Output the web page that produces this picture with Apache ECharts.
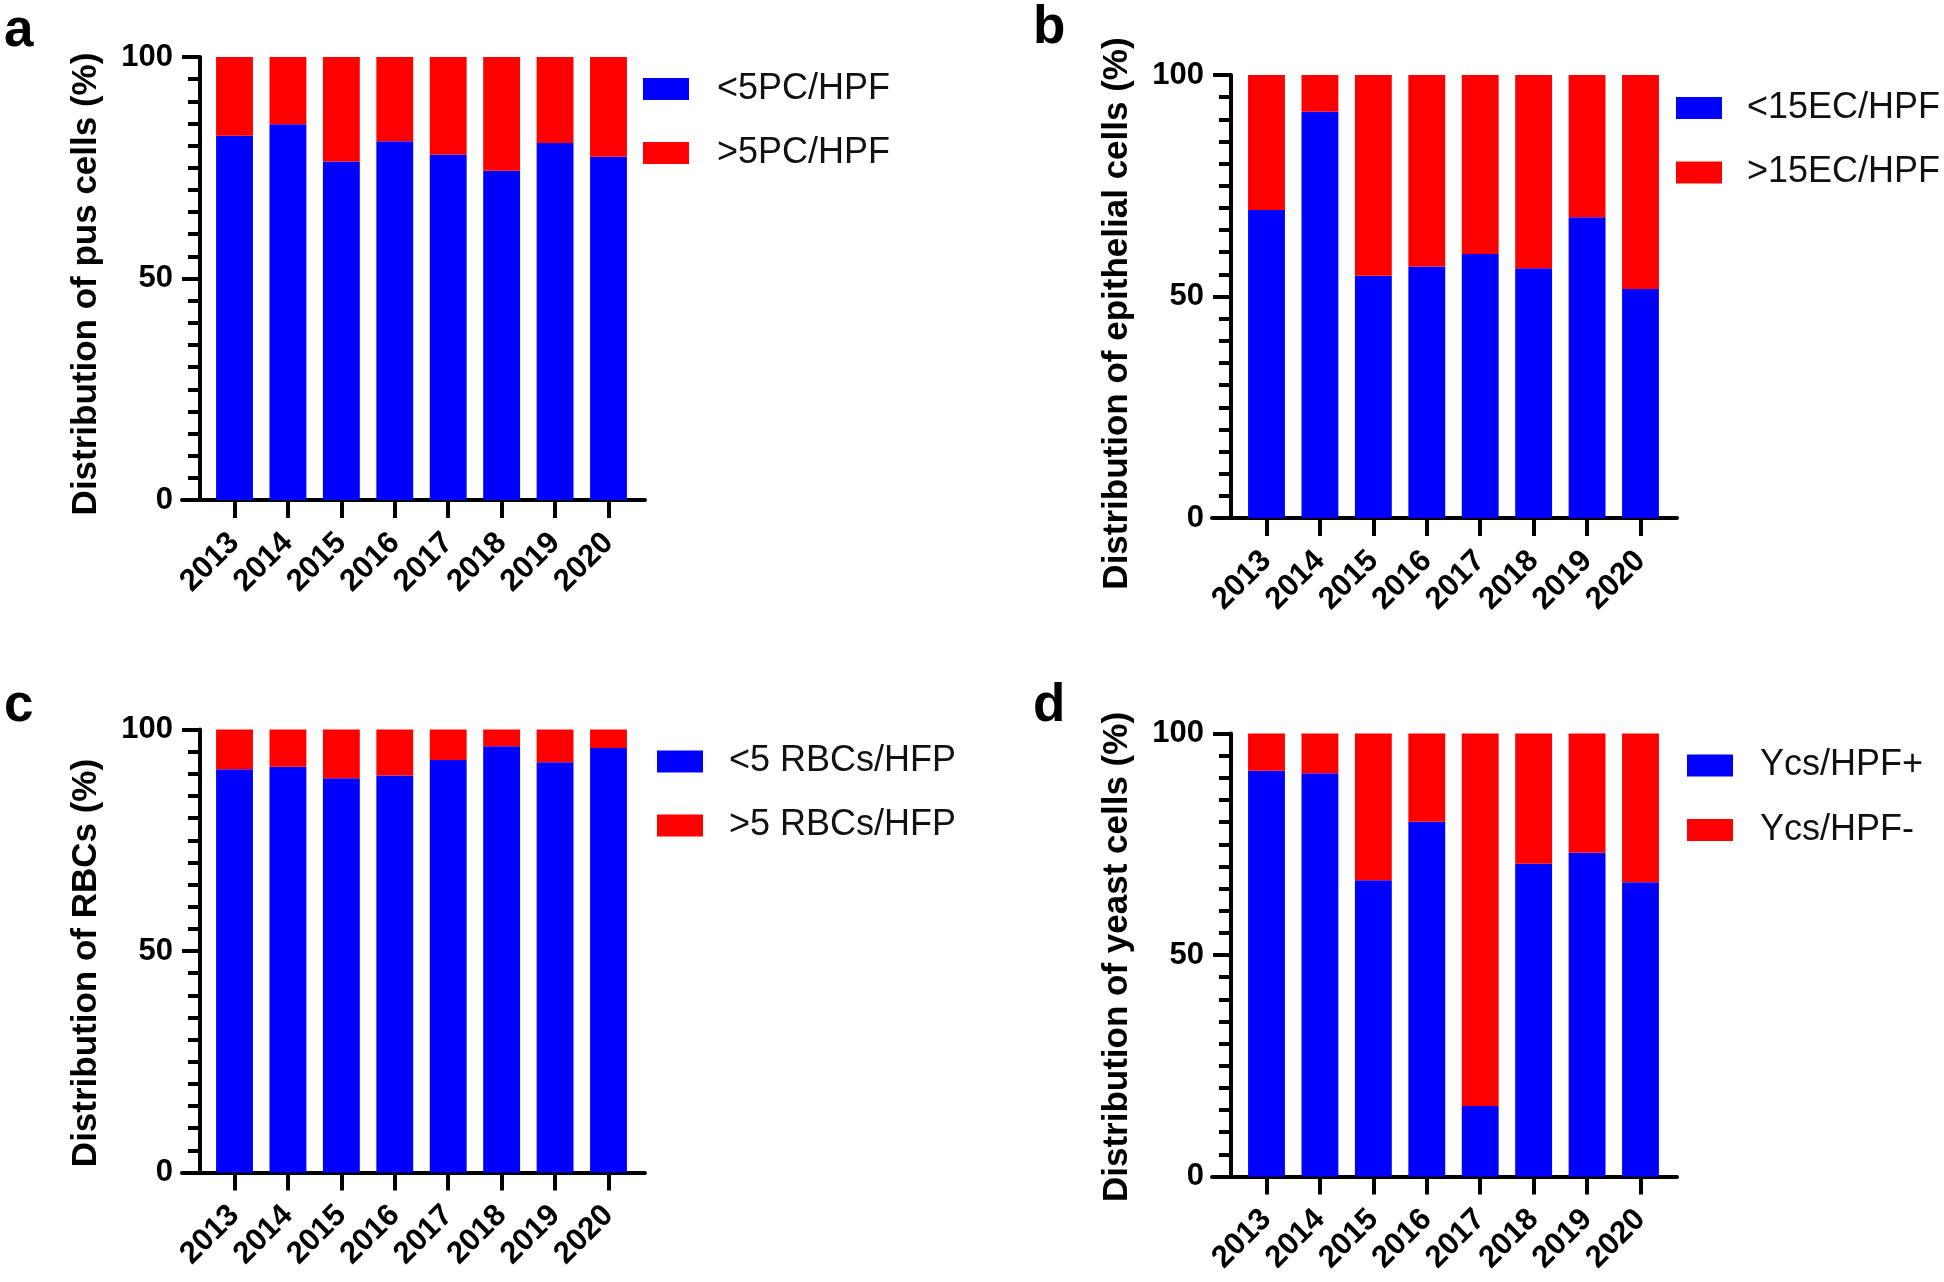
<!DOCTYPE html>
<html>
<head>
<meta charset="utf-8">
<script src="https://cdn.jsdelivr.net/npm/echarts@6/dist/echarts.min.js"></script>
<style>
html,body{margin:0;padding:0;background:#fff;}
#chart{width:1944px;height:1282px;}
</style>
</head>
<body>
<div id="chart"></div>
<script>
// ---- data ----
const years = ['2013','2014','2015','2016','2017','2018','2019','2020'];
const yTicks = [0, 50, 100];

const pusLow  = [82.2, 84.8, 76.4, 81.0, 78.0, 74.3, 80.6, 77.5];
const pusHigh = [17.8, 15.2, 23.6, 19.0, 22.0, 25.7, 19.4, 22.5];

const epiLow  = [69.5, 91.7, 54.7, 56.8, 59.6, 56.4, 67.9, 51.7];
const epiHigh = [30.5,  8.3, 45.3, 43.2, 40.4, 43.6, 32.1, 48.3];

const rbcLow  = [91.0, 91.6, 89.0, 89.6, 93.1, 96.2, 92.6, 95.8];
const rbcHigh = [ 9.0,  8.4, 11.0, 10.4,  6.9,  3.8,  7.4,  4.2];

const yeastPos = [91.6, 91.0, 66.9, 80.1, 15.9, 70.6, 73.1, 66.4];
const yeastNeg = [ 8.4,  9.0, 33.1, 19.9, 84.1, 29.4, 26.9, 33.6];

const panelLetters = ['a','b','c','d'];
const yTitles = ['Distribution of pus cells (%)','Distribution of epithelial cells (%)','Distribution of RBCs (%)','Distribution of yeast cells (%)'];
const lowNames  = ['<5PC/HPF','<15EC/HPF','<5 RBCs/HFP','Ycs/HPF+'];
const highNames = ['>5PC/HPF','>15EC/HPF','>5 RBCs/HFP','Ycs/HPF-'];
const lowData  = [pusLow, epiLow, rbcLow, yeastPos];
const highData = [pusHigh, epiHigh, rbcHigh, yeastNeg];

// ---- layout (styling) ----
const FONT = '"Liberation Sans", Arial, sans-serif';
const BLUE = '#0000FF', RED = '#FF0000';
const layout = [
  {axisX:200,  top:57,    bottom:500,    bandL:207.8,  bandR:635.2,  lineL:182,  lineR:645,  legL:643,  legT:67,    legGap:20,   txtPad:23, label:[4,5],      namePad:11},
  {axisX:1231, top:75,    bottom:518,    bandL:1239.8, bandR:1667.2, lineL:1212, lineR:1677, legL:1676, legT:86,    legGap:20.5, txtPad:20, label:[1033,2],   namePad:34},
  {axisX:200,  top:729.5, bottom:1172.5, bandL:207.8,  bandR:635.2,  lineL:182,  lineR:645,  legL:657,  legT:739.5, legGap:20,   txtPad:21, label:[4,680],    namePad:24},
  {axisX:1231, top:733.5, bottom:1176.5, bandL:1239.8, bandR:1667.2, lineL:1212, lineR:1677, legL:1687, legT:743.5, legGap:20.5, txtPad:22, label:[1033,680], namePad:4}
];

const grid = [], xAxis = [], yAxis = [], series = [], legend = [], title = [];
layout.forEach((L, p) => {
  const gBar = grid.length;
  grid.push({left:L.bandL, width:L.bandR-L.bandL, top:L.top, height:L.bottom-L.top});
  const gLine = grid.length;
  grid.push({left:L.lineL, width:L.lineR-L.lineL, top:L.top, height:L.bottom-L.top});

  xAxis.push({
    type:'category', gridIndex:gBar, data:years,
    axisLine:{show:false},
    axisTick:{show:true, interval:0, alignWithLabel:true, length:18, lineStyle:{color:'#000', width:4}},
    axisLabel:{interval:0, rotate:45, margin:38, color:'#000', fontFamily:FONT, fontWeight:'bold', fontSize:31}
  });
  xAxis.push({
    type:'value', gridIndex:gLine, min:0, max:1,
    axisLine:{show:true, lineStyle:{color:'#000', width:4}},
    axisTick:{show:false}, axisLabel:{show:false}, splitLine:{show:false}
  });

  yAxis.push({
    type:'value', gridIndex:gBar, min:yTicks[0], max:yTicks[yTicks.length-1], interval:yTicks[1]-yTicks[0],
    offset:L.bandL - L.axisX,
    axisLine:{show:true, lineStyle:{color:'#000', width:4}},
    axisTick:{show:true, length:18, lineStyle:{color:'#000', width:4}},
    minorTick:{show:true, splitNumber:10, length:12, lineStyle:{color:'#000', width:4}},
    splitLine:{show:false},
    axisLabel:{margin:27, color:'#000', fontFamily:FONT, fontWeight:'bold', fontSize:31},
    name:yTitles[p], nameLocation:'middle', nameGap:96,
    nameTextStyle:{color:'#000', fontFamily:FONT, fontWeight:'bold', fontSize:35, padding:[0, L.namePad, 0, 0]}
  });
  yAxis.push({
    type:'value', gridIndex:gLine, min:0, max:1, show:false
  });

  const stackId = 'stack' + p;
  series.push({
    type:'bar', name:lowNames[p], xAxisIndex:gBar, yAxisIndex:gBar, stack:stackId,
    data:lowData[p], barWidth:'69%', itemStyle:{color:BLUE}, emphasis:{disabled:true}
  });
  series.push({
    type:'bar', name:highNames[p], xAxisIndex:gBar, yAxisIndex:gBar, stack:stackId,
    data:highData[p], barWidth:'69%', itemStyle:{color:RED}, emphasis:{disabled:true}
  });

  legend.push({
    data:[lowNames[p], highNames[p]], orient:'vertical', left:L.legL, top:L.legT,
    padding:0, itemWidth:46, itemHeight:22, itemGap:L.legGap, icon:'rect',
    selectedMode:false,
    textStyle:{color:'#111', fontFamily:FONT, fontSize:36, lineHeight:40, padding:[4,0,0,L.txtPad]}
  });

  title.push({
    text:panelLetters[p], left:L.label[0], top:L.label[1], padding:0,
    textStyle:{color:'#000', fontFamily:FONT, fontWeight:'bold', fontSize:53}
  });
});

const chart = echarts.init(document.getElementById('chart'), null, {renderer:'canvas'});
chart.setOption({
  animation:false,
  backgroundColor:'#fff',
  title, legend, grid, xAxis, yAxis, series
});
</script>
</body>
</html>
